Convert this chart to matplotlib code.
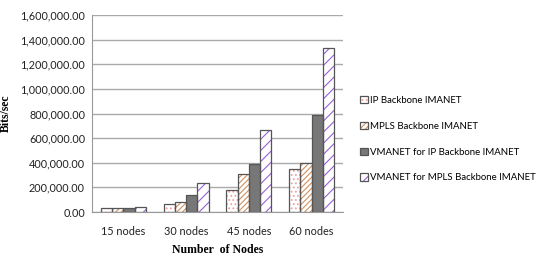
import matplotlib
matplotlib.use("Agg")
import matplotlib.pyplot as plt
import numpy as np
from matplotlib.ticker import FuncFormatter
from matplotlib.patches import Patch

categories = ["15 nodes", "30 nodes", "45 nodes", "60 nodes"]
ip_backbone = [30000, 63000, 176000, 347000]
mpls_backbone = [32000, 81000, 306000, 395000]
vmanet_ip = [30000, 138000, 393000, 786000]
vmanet_mpls = [42000, 236000, 670000, 1330000]
series_names = ["IP Backbone IMANET", "MPLS Backbone IMANET",
                "VMANET for IP Backbone IMANET", "VMANET for MPLS Backbone IMANET"]

plt.rcParams['hatch.linewidth'] = 0.8
fig = plt.figure(figsize=(5.43, 2.57), dpi=100)
ax = fig.add_axes([0.1694, 0.175, 0.4623, 0.7666])

x = np.arange(len(categories))
w = 0.18
offs = [-1.5 * w, -0.5 * w, 0.5 * w, 1.5 * w]
edge = "#555555"

# (face, hatch colour, hatch)
styles = [("white", "#f0a0a0", "...."),
          ("white", "#d09060", "//////"),
          ("#777777", "#777777", None),
          ("white", "#9a5fd6", "///")]
data = [ip_backbone, mpls_backbone, vmanet_ip, vmanet_mpls]

handles = []
for vals, off, (fc, hc, hatch), name in zip(data, offs, styles, series_names):
    ax.bar(x + off, vals, w, facecolor=fc, edgecolor=hc, hatch=hatch, linewidth=0, zorder=2)
    ax.bar(x + off, vals, w, facecolor="none", edgecolor=edge, linewidth=0.9, zorder=3)
    handles.append((Patch(facecolor=fc, edgecolor=hc, hatch=hatch, linewidth=0),
                    Patch(facecolor="none", edgecolor=edge, linewidth=0.9)))

ax.set_xlim(-0.5, 3.5)
ax.set_ylim(0, 1600000)
ax.set_yticks(np.arange(0, 1600001, 200000))
ax.yaxis.set_major_formatter(FuncFormatter(lambda v, p: f"{v:,.2f}"))
ax.set_xticks(x)
ax.set_xticklabels(categories)
ax.grid(axis="y", color="#aaaaaa", linewidth=1.0, zorder=0)
ax.set_axisbelow(True)
for s in ["top", "right"]:
    ax.spines[s].set_visible(False)
ax.spines["left"].set_color("#999999")
ax.spines["bottom"].set_color("#999999")
ax.tick_params(axis="both", length=0, labelsize=7.8, colors="#222222", pad=5)
ax.tick_params(axis="x", pad=10)
for t in ax.get_xticklabels() + ax.get_yticklabels():
    t.set_family("Lato")

ax.set_ylabel("Bits/sec", family="Liberation Serif", fontweight="bold", fontsize=8.5, labelpad=6)
ax.set_xlabel("Number  of Nodes", family="Liberation Serif", fontweight="bold", fontsize=8.5, labelpad=5)

leg = fig.legend(handles, series_names, loc="upper left", bbox_to_anchor=(0.648, 0.66),
                 frameon=False, prop={"family": "Lato", "size": 6.9},
                 handlelength=0.8, handleheight=0.8, handletextpad=0.2, labelspacing=1.75)

fig.savefig("out.png", dpi=100)
